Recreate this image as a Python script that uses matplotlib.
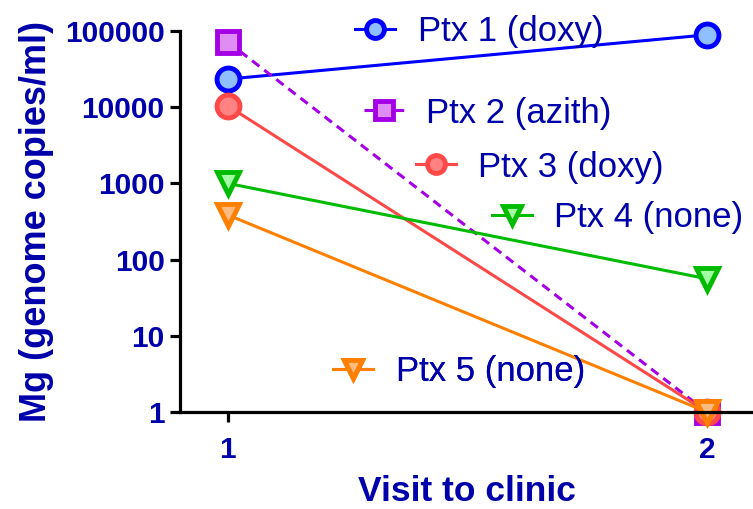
import matplotlib
matplotlib.use("Agg")
import matplotlib.pyplot as plt

plt.rcParams['font.family'] = ['Liberation Sans', 'DejaVu Sans']

visits = [1, 2]
ptx1 = [23400, 89000]
ptx2 = [71700, 1]
ptx3 = [10400, 1]
ptx4 = [1000, 56]
ptx5 = [385, 1]
labels = ["Ptx 1 (doxy)", "Ptx 2 (azith)", "Ptx 3 (doxy)", "Ptx 4 (none)", "Ptx 5 (none)"]
yticks = [1, 10, 100, 1000, 10000, 100000]
ytick_labels = ["1", "10", "100", "1000", "10000", "100000"]
xticks = [1, 2]

text_blue = "#0000AA"
styles = [
    dict(color="#0000FF", mfc="#8FBFFF", marker="o", ls="-"),
    dict(color="#A400E6", mfc="#DF8CF5", marker="s", ls=(0, (3, 2))),
    dict(color="#FF4848", mfc="#FF8383", marker="o", ls="-"),
    dict(color="#00BB00", mfc="#A3FFA3", marker="v", ls="-"),
    dict(color="#FF8000", mfc="#FFBB80", marker="v", ls="-"),
]
series = [ptx1, ptx2, ptx3, ptx4, ptx5]

fig = plt.figure(figsize=(7.53, 5.09), dpi=100)
ax = fig.add_axes([180 / 753, 1 - 412 / 509, 573 / 753, 381 / 509])

lines = []
for ys, st, lab in zip(series, styles, labels):
    ln, = ax.plot(visits, ys, color=st["color"], ls=st["ls"], lw=2.2,
                  marker=st["marker"], ms=16.5, mfc=st["mfc"], mec=st["color"],
                  mew=3.5, label=lab, clip_on=False)
    lines.append(ln)

ax.set_yscale("log")
ax.set_ylim(1, 100000)
ax.set_xlim(0.9, 2.096)
ax.set_yticks(yticks)
ax.set_yticklabels(ytick_labels)
ax.yaxis.set_minor_locator(matplotlib.ticker.NullLocator())
ax.set_xticks(xticks)
ax.set_xticklabels([str(v) for v in xticks])

for s in ["top", "right"]:
    ax.spines[s].set_visible(False)
for s in ["left", "bottom"]:
    ax.spines[s].set_linewidth(2.3)
ax.tick_params(axis="both", direction="out", length=7, width=2.3,
               labelsize=21.5, labelcolor=text_blue, pad=4)
for t in ax.get_xticklabels() + ax.get_yticklabels():
    t.set_fontweight("bold")
ax.tick_params(axis="x", pad=10)

ax.set_xlabel("Visit to clinic", fontsize=25.5, fontweight="bold", color=text_blue, labelpad=8)
ax.set_ylabel("Mg (genome copies/ml)", fontsize=26, fontweight="bold", color=text_blue, labelpad=8)

# Individual legend entries placed around the plot area
entry_pos = [(355, 32), (364, 113), (416, 167), (492, 218), (333, 372)]
for ln, (px, py) in zip(lines, entry_pos):
    leg = ax.legend(handles=[ln], loc="center left",
                    bbox_to_anchor=(px / 753, 1 - py / 509),
                    bbox_transform=fig.transFigure, frameon=False,
                    borderpad=0, borderaxespad=0, handlelength=1.15,
                    handletextpad=0.65, markerscale=0.78,
                    prop=dict(size=25))
    for t in leg.get_texts():
        t.set_color(text_blue)
    ax.add_artist(leg)

fig.savefig("out.png", dpi=100)
